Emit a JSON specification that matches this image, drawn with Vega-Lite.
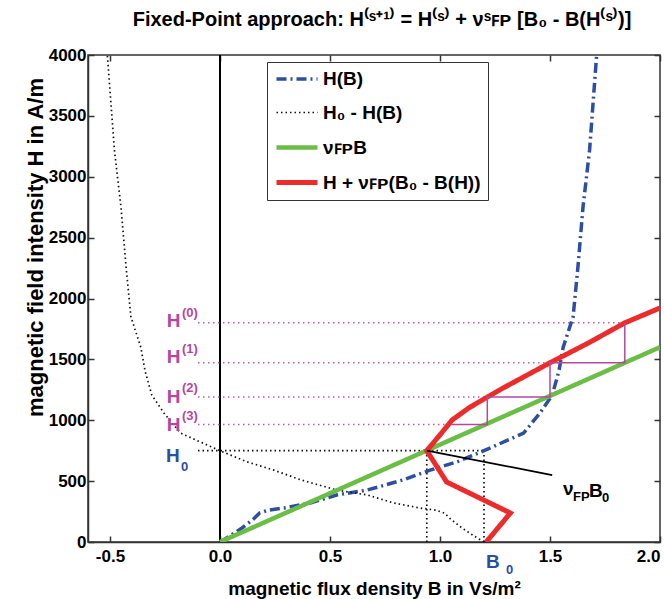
{
  "$schema": "https://vega.github.io/schema/vega-lite/v6.json",
  "width": 572,
  "height": 487,
  "autosize": {"type": "none"},
  "padding": {"left": 88, "top": 55, "right": 4, "bottom": 57},
  "background": "white",
  "title": {"text": "Fixed-Point approach: H⁽ˢ⁺¹⁾ = H⁽ˢ⁾ + νˢꜰᴘ [B₀ - B(H⁽ˢ⁾)]", "fontSize": 20, "fontWeight": "bold", "font": "Liberation Sans", "offset": 16, "anchor": "middle", "dx": 8, "color": "black"},
  "config": {
    "font": "Liberation Sans",
    "view": {"stroke": "#333333", "strokeWidth": 1.5},
    "axis": {
      "labelFont": "Liberation Sans", "labelFontSize": 17, "labelFontWeight": "bold", "labelColor": "black",
      "titleFont": "Liberation Sans", "titleFontSize": 20, "titleFontWeight": "bold", "titleColor": "black",
      "tickColor": "#333333", "domainColor": "#333333", "domainWidth": 1.5, "tickSize": -6, "tickWidth": 1.5,
      "grid": false, "labelPadding": 8
    }
  },
  "datasets": {
    "curves": [
      {"s": "H(B)", "i": 0, "B": 0, "H": 0},
      {"s": "H(B)", "i": 1, "B": 0.05, "H": 55},
      {"s": "H(B)", "i": 2, "B": 0.1, "H": 115},
      {"s": "H(B)", "i": 3, "B": 0.15, "H": 185},
      {"s": "H(B)", "i": 4, "B": 0.18, "H": 238},
      {"s": "H(B)", "i": 5, "B": 0.22, "H": 262},
      {"s": "H(B)", "i": 6, "B": 0.29, "H": 279},
      {"s": "H(B)", "i": 7, "B": 0.41, "H": 320},
      {"s": "H(B)", "i": 8, "B": 0.53, "H": 386},
      {"s": "H(B)", "i": 9, "B": 0.67, "H": 427},
      {"s": "H(B)", "i": 10, "B": 0.83, "H": 509},
      {"s": "H(B)", "i": 11, "B": 0.955, "H": 590},
      {"s": "H(B)", "i": 12, "B": 1.08, "H": 660},
      {"s": "H(B)", "i": 13, "B": 1.2, "H": 750},
      {"s": "H(B)", "i": 14, "B": 1.3, "H": 830},
      {"s": "H(B)", "i": 15, "B": 1.38, "H": 895},
      {"s": "H(B)", "i": 16, "B": 1.455, "H": 1060},
      {"s": "H(B)", "i": 17, "B": 1.51, "H": 1207},
      {"s": "H(B)", "i": 18, "B": 1.54, "H": 1400},
      {"s": "H(B)", "i": 19, "B": 1.56, "H": 1600},
      {"s": "H(B)", "i": 20, "B": 1.605, "H": 1850},
      {"s": "H(B)", "i": 21, "B": 1.627, "H": 2260},
      {"s": "H(B)", "i": 22, "B": 1.65, "H": 2750},
      {"s": "H(B)", "i": 23, "B": 1.68, "H": 3220},
      {"s": "H(B)", "i": 24, "B": 1.712, "H": 4000},
      {"s": "H₀ - H(B)", "i": 0, "B": 1.2, "H": 0},
      {"s": "H₀ - H(B)", "i": 1, "B": 1.15, "H": 55},
      {"s": "H₀ - H(B)", "i": 2, "B": 1.1, "H": 115},
      {"s": "H₀ - H(B)", "i": 3, "B": 1.05, "H": 185},
      {"s": "H₀ - H(B)", "i": 4, "B": 1.02, "H": 238},
      {"s": "H₀ - H(B)", "i": 5, "B": 0.98, "H": 262},
      {"s": "H₀ - H(B)", "i": 6, "B": 0.91, "H": 279},
      {"s": "H₀ - H(B)", "i": 7, "B": 0.79, "H": 320},
      {"s": "H₀ - H(B)", "i": 8, "B": 0.67, "H": 386},
      {"s": "H₀ - H(B)", "i": 9, "B": 0.53, "H": 427},
      {"s": "H₀ - H(B)", "i": 10, "B": 0.37, "H": 509},
      {"s": "H₀ - H(B)", "i": 11, "B": 0.245, "H": 590},
      {"s": "H₀ - H(B)", "i": 12, "B": 0.12, "H": 660},
      {"s": "H₀ - H(B)", "i": 13, "B": 0, "H": 750},
      {"s": "H₀ - H(B)", "i": 14, "B": -0.1, "H": 830},
      {"s": "H₀ - H(B)", "i": 15, "B": -0.18, "H": 895},
      {"s": "H₀ - H(B)", "i": 16, "B": -0.255, "H": 1060},
      {"s": "H₀ - H(B)", "i": 17, "B": -0.31, "H": 1207},
      {"s": "H₀ - H(B)", "i": 18, "B": -0.34, "H": 1400},
      {"s": "H₀ - H(B)", "i": 19, "B": -0.36, "H": 1600},
      {"s": "H₀ - H(B)", "i": 20, "B": -0.405, "H": 1850},
      {"s": "H₀ - H(B)", "i": 21, "B": -0.427, "H": 2260},
      {"s": "H₀ - H(B)", "i": 22, "B": -0.45, "H": 2750},
      {"s": "H₀ - H(B)", "i": 23, "B": -0.48, "H": 3220},
      {"s": "H₀ - H(B)", "i": 24, "B": -0.512, "H": 4000},
      {"s": "νꜰᴘB", "i": 0, "B": 0, "H": 0},
      {"s": "νꜰᴘB", "i": 1, "B": 2, "H": 1600},
      {"s": "H + νꜰᴘ(B₀ - B(H))", "i": 0, "B": 1.21, "H": 0},
      {"s": "H + νꜰᴘ(B₀ - B(H))", "i": 1, "B": 1.32, "H": 238},
      {"s": "H + νꜰᴘ(B₀ - B(H))", "i": 2, "B": 1.03, "H": 493},
      {"s": "H + νꜰᴘ(B₀ - B(H))", "i": 3, "B": 0.94, "H": 750},
      {"s": "H + νꜰᴘ(B₀ - B(H))", "i": 4, "B": 1.0, "H": 880},
      {"s": "H + νꜰᴘ(B₀ - B(H))", "i": 5, "B": 1.055, "H": 1002},
      {"s": "H + νꜰᴘ(B₀ - B(H))", "i": 6, "B": 1.13, "H": 1100},
      {"s": "H + νꜰᴘ(B₀ - B(H))", "i": 7, "B": 1.215, "H": 1190},
      {"s": "H + νꜰᴘ(B₀ - B(H))", "i": 8, "B": 1.287, "H": 1265},
      {"s": "H + νꜰᴘ(B₀ - B(H))", "i": 9, "B": 1.5, "H": 1472},
      {"s": "H + νꜰᴘ(B₀ - B(H))", "i": 10, "B": 1.68, "H": 1640},
      {"s": "H + νꜰᴘ(B₀ - B(H))", "i": 11, "B": 1.84, "H": 1800},
      {"s": "H + νꜰᴘ(B₀ - B(H))", "i": 12, "B": 2.0, "H": 1922}
    ],
    "stair": [
      {"i": 0, "B": 1.84, "H": 1800},
      {"i": 1, "B": 1.84, "H": 1472},
      {"i": 2, "B": 1.5, "H": 1472},
      {"i": 3, "B": 1.5, "H": 1190},
      {"i": 4, "B": 1.215, "H": 1190},
      {"i": 5, "B": 1.215, "H": 965},
      {"i": 6, "B": 1.05, "H": 965}
    ],
    "guides": [
      {"g": "m", "B1": -0.1, "B2": 1.84, "H1": 1800, "H2": 1800},
      {"g": "m", "B1": -0.1, "B2": 1.5, "H1": 1472, "H2": 1472},
      {"g": "m", "B1": -0.1, "B2": 1.215, "H1": 1190, "H2": 1190},
      {"g": "m", "B1": -0.1, "B2": 1.05, "H1": 965, "H2": 965},
      {"g": "k", "B1": -0.1, "B2": 1.2, "H1": 750, "H2": 750},
      {"g": "k", "B1": 0.94, "B2": 0.94, "H1": 0, "H2": 750},
      {"g": "k", "B1": 1.2, "B2": 1.2, "H1": 0, "H2": 750},
      {"g": "p", "B1": 0.94, "B2": 1.51, "H1": 750, "H2": 550},
      {"g": "axis0", "B1": 0, "B2": 0, "H1": 0, "H2": 4000}
    ],
    "labels": [
      {"g": "m", "p": "base", "t": "H", "B": -0.2424, "H": 1766},
      {"g": "m", "p": "base", "t": "H", "B": -0.2424, "H": 1470},
      {"g": "m", "p": "base", "t": "H", "B": -0.2424, "H": 1144},
      {"g": "m", "p": "base", "t": "H", "B": -0.2424, "H": 912},
      {"g": "m", "p": "idx", "t": "(0)", "B": -0.1727, "H": 1848},
      {"g": "m", "p": "idx", "t": "(1)", "B": -0.1727, "H": 1552},
      {"g": "m", "p": "idx", "t": "(2)", "B": -0.1727, "H": 1232},
      {"g": "m", "p": "idx", "t": "(3)", "B": -0.1727, "H": 1002},
      {"g": "b", "p": "base", "t": "H", "B": -0.2455, "H": 660},
      {"g": "b", "p": "idx", "t": "0", "B": -0.177, "H": 587},
      {"g": "b", "p": "base", "t": "B", "B": 1.209, "H": -215},
      {"g": "b", "p": "idx", "t": "0", "B": 1.3, "H": -265},
      {"g": "k", "p": "base", "t": "ν", "B": 1.559, "H": 386},
      {"g": "k", "p": "idx", "t": "FP", "B": 1.605, "H": 337},
      {"g": "k", "p": "base", "t": "B", "B": 1.677, "H": 370},
      {"g": "k", "p": "idx", "t": "0", "B": 1.736, "H": 329}
    ]
  },
  "layer": [
    {
      "data": {"name": "guides"},
      "transform": [{"filter": "datum.g === 'axis0'"}],
      "mark": {"type": "rule", "color": "black", "strokeWidth": 2},
      "encoding": {
        "x": {"field": "B1", "type": "quantitative", "scale": {"domain": [-0.6, 2], "nice": false, "zero": false},
              "axis": {"orient": "top", "values": [-0.5, 0, 0.5, 1, 1.5, 2], "labels": false, "title": null, "domain": false}},
        "x2": {"field": "B2"},
        "y": {"field": "H1", "type": "quantitative", "scale": {"domain": [0, 4000], "nice": false},
              "axis": {"orient": "right", "values": [0, 500, 1000, 1500, 2000, 2500, 3000, 3500, 4000], "labels": false, "title": null, "domain": false}},
        "y2": {"field": "H2"}
      }
    },
    {
      "data": {"name": "guides"},
      "transform": [{"filter": "datum.g === 'm'"}],
      "mark": {"type": "rule", "color": "#c158b3", "strokeWidth": 1.5, "strokeDash": [1.5, 3.5]},
      "encoding": {
        "x": {"field": "B1", "type": "quantitative", "axis": null},
        "x2": {"field": "B2"},
        "y": {"field": "H1", "type": "quantitative", "axis": null},
        "y2": {"field": "H2"}
      }
    },
    {
      "data": {"name": "guides"},
      "transform": [{"filter": "datum.g === 'k'"}],
      "mark": {"type": "rule", "color": "#111111", "strokeWidth": 1.7, "strokeDash": [1.5, 3]},
      "encoding": {
        "x": {"field": "B1", "type": "quantitative", "axis": null},
        "x2": {"field": "B2"},
        "y": {"field": "H1", "type": "quantitative", "axis": null},
        "y2": {"field": "H2"}
      }
    },
    {
      "data": {"name": "curves"},
      "mark": {"type": "line", "clip": true, "strokeCap": "butt"},
      "encoding": {
        "x": {"field": "B", "type": "quantitative",
              "axis": {"orient": "bottom", "values": [-0.5, 0, 0.5, 1, 1.5, 2], "title": "magnetic flux density B in Vs/m²", "labelExpr": "replace(datum.label, '−', '-')", "labelPadding": 12, "titlePadding": 15, "titleFontSize": 19}},
        "y": {"field": "H", "type": "quantitative",
              "axis": {"orient": "left", "values": [0, 500, 1000, 1500, 2000, 2500, 3000, 3500, 4000], "format": "d", "title": "magnetic field intensity H in A/m", "titleFontSize": 22, "titleX": -46, "titleY": 192, "titleBaseline": "alphabetic", "titleAngle": 270}},
        "order": {"field": "i", "type": "quantitative"},
        "color": {"field": "s", "type": "nominal",
                  "scale": {"domain": ["H(B)", "H₀ - H(B)", "νꜰᴘB", "H + νꜰᴘ(B₀ - B(H))"], "range": ["#2d4fa1", "#111111", "#6abd45", "#ee2b2b"]},
                  "legend": {"orient": "none", "legendX": 179, "legendY": 7, "title": null, "strokeColor": "#333333", "fillColor": "white", "padding": 7,
                             "symbolType": "M-1,0H4.125", "symbolSize": 256, "labelFontSize": 19, "labelFontWeight": "bold", "labelColor": "black",
                             "labelOffset": 28, "rowPadding": 14, "labelFont": "Liberation Sans"}},
        "strokeDash": {"field": "s", "type": "nominal",
                       "scale": {"domain": ["H(B)", "H₀ - H(B)", "νꜰᴘB", "H + νꜰᴘ(B₀ - B(H))"], "range": [[10, 4, 2, 4], [1.5, 3], [1, 0], [1, 0]]}},
        "strokeWidth": {"field": "s", "type": "nominal",
                        "scale": {"type": "ordinal", "domain": ["H(B)", "H₀ - H(B)", "νꜰᴘB", "H + νꜰᴘ(B₀ - B(H))"], "range": [3.5, 1.7, 4.5, 5]}}
      }
    },
    {
      "data": {"name": "stair"},
      "mark": {"type": "line", "color": "#b4489f", "strokeWidth": 1.5},
      "encoding": {
        "x": {"field": "B", "type": "quantitative", "axis": null},
        "y": {"field": "H", "type": "quantitative", "axis": null},
        "order": {"field": "i", "type": "quantitative"}
      }
    },
    {
      "data": {"name": "guides"},
      "transform": [{"filter": "datum.g === 'p'"}],
      "mark": {"type": "rule", "color": "black", "strokeWidth": 1.8},
      "encoding": {
        "x": {"field": "B1", "type": "quantitative", "axis": null},
        "x2": {"field": "B2"},
        "y": {"field": "H1", "type": "quantitative", "axis": null},
        "y2": {"field": "H2"}
      }
    },
    {
      "data": {"name": "labels"},
      "transform": [{"filter": "datum.g === 'm' && datum.p === 'base'"}],
      "mark": {"type": "text", "align": "left", "baseline": "alphabetic", "fontSize": 19, "fontWeight": "bold", "color": "#b4489f", "font": "Liberation Sans"},
      "encoding": {"x": {"field": "B", "type": "quantitative", "axis": null}, "y": {"field": "H", "type": "quantitative", "axis": null}, "text": {"field": "t"}}
    },
    {
      "data": {"name": "labels"},
      "transform": [{"filter": "datum.g === 'm' && datum.p === 'idx'"}],
      "mark": {"type": "text", "align": "left", "baseline": "alphabetic", "fontSize": 13, "fontWeight": "bold", "color": "#b4489f", "font": "Liberation Sans"},
      "encoding": {"x": {"field": "B", "type": "quantitative", "axis": null}, "y": {"field": "H", "type": "quantitative", "axis": null}, "text": {"field": "t"}}
    },
    {
      "data": {"name": "labels"},
      "transform": [{"filter": "datum.g === 'b' && datum.p === 'base'"}],
      "mark": {"type": "text", "align": "left", "baseline": "alphabetic", "fontSize": 19, "fontWeight": "bold", "color": "#2b4ea3", "font": "Liberation Sans"},
      "encoding": {"x": {"field": "B", "type": "quantitative", "axis": null}, "y": {"field": "H", "type": "quantitative", "axis": null}, "text": {"field": "t"}}
    },
    {
      "data": {"name": "labels"},
      "transform": [{"filter": "datum.g === 'b' && datum.p === 'idx'"}],
      "mark": {"type": "text", "align": "left", "baseline": "alphabetic", "fontSize": 13, "fontWeight": "bold", "color": "#2b4ea3", "font": "Liberation Sans"},
      "encoding": {"x": {"field": "B", "type": "quantitative", "axis": null}, "y": {"field": "H", "type": "quantitative", "axis": null}, "text": {"field": "t"}}
    },
    {
      "data": {"name": "labels"},
      "transform": [{"filter": "datum.g === 'k' && datum.p === 'base'"}],
      "mark": {"type": "text", "align": "left", "baseline": "alphabetic", "fontSize": 19, "fontWeight": "bold", "color": "black", "font": "Liberation Sans"},
      "encoding": {"x": {"field": "B", "type": "quantitative", "axis": null}, "y": {"field": "H", "type": "quantitative", "axis": null}, "text": {"field": "t"}}
    },
    {
      "data": {"name": "labels"},
      "transform": [{"filter": "datum.g === 'k' && datum.p === 'idx'"}],
      "mark": {"type": "text", "align": "left", "baseline": "alphabetic", "fontSize": 13, "fontWeight": "bold", "color": "black", "font": "Liberation Sans"},
      "encoding": {"x": {"field": "B", "type": "quantitative", "axis": null}, "y": {"field": "H", "type": "quantitative", "axis": null}, "text": {"field": "t"}}
    }
  ],
  "resolve": {"axis": {"x": "independent", "y": "independent"}}
}
